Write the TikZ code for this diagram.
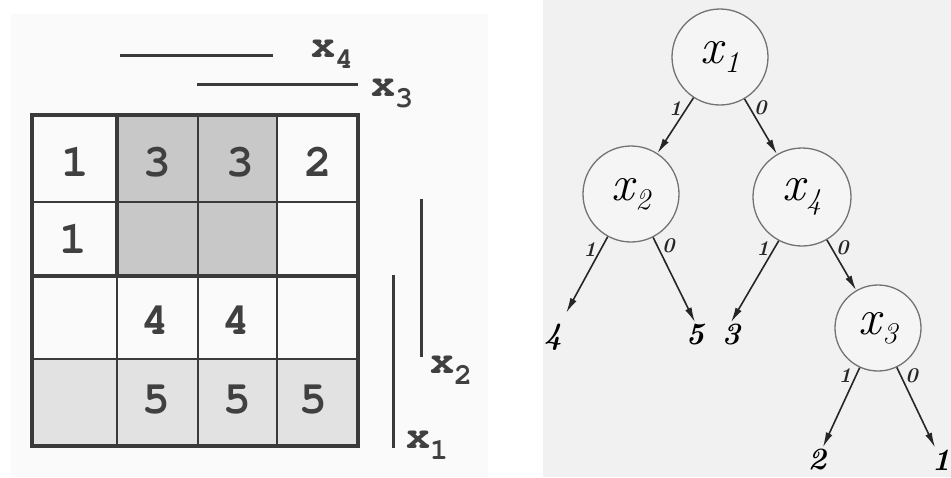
\documentclass[tikz,border=0pt]{standalone}
\usepackage{fontspec}
\usetikzlibrary{arrows.meta}
\newfontfamily\kfont{TeX Gyre Cursor}
\definecolor{cellgray}{HTML}{C8C8C8}
\definecolor{rowgray}{HTML}{E2E2E2}
\definecolor{gridline}{HTML}{3A3A3A}
\definecolor{pagegray}{HTML}{F1F1F1}
\newcommand{\kvar}[1]{{\kfont\bfseries\fontsize{40}{40}\selectfont x\raisebox{-11pt}{\fontsize{30}{30}\selectfont #1}}}
\newcommand{\tvar}[1]{{\itshape x\kern1pt\raisebox{-9pt}{\fontsize{30}{30}\selectfont #1}}}

\begin{document}
\begin{tikzpicture}[x=1pt,y=-1pt]
  \tikzstyle{cell}=[font=\kfont\bfseries\fontsize{46}{46}\selectfont, text=black!75, inner sep=0pt]
  \tikzstyle{var}=[inner sep=0pt, anchor=base west, text=black!75]
  \tikzstyle{bar}=[line width=3pt, gridline]
  \tikzstyle{test}=[circle, draw=black!55, line width=1.3pt, fill=white!96!black,
    minimum size=96pt, inner sep=0pt, font=\fontsize{50}{50}\selectfont]
  \tikzstyle{leaf}=[inner sep=2pt, font=\fontsize{31}{31}\selectfont\bfseries\itshape]
  \tikzstyle{branch}=[inner sep=4pt, font=\fontsize{21}{21}\selectfont\bfseries\itshape]
  \tikzstyle{arc}=[-{Latex[length=15pt,width=7pt]}, line width=1.6pt, black!85]

  \useasboundingbox (0,0) rectangle (951,477);
  \fill[white!98!black] (11,14) rectangle (488,477);
  \fill[pagegray] (543,0) rectangle (951,477);

  % the map
  \fill[cellgray] (117,115) rectangle (277,276);
  \fill[rowgray] (32,359) rectangle (358,446);
  \foreach \x in {117,198,277}
    \draw[gridline, line width=2pt] (\x,115) -- (\x,446);
  \foreach \y in {202,359}
    \draw[gridline, line width=2pt] (32,\y) -- (358,\y);
  \draw[gridline, line width=3.5pt] (117,115) -- (117,276);
  \draw[gridline, line width=4pt] (32,276) -- (358,276);
  \draw[gridline, line width=4pt] (32,115) rectangle (358,446);
  \foreach \name/\x/\y/\v in {c11/75/162/1, c12/157/162/3, c13/240/162/3, c14/318/162/2,
                              c21/73/239/1,
                              c32/155/320/4, c33/236/320/4,
                              c42/156/400/5, c43/237/400/5, c44/313/400/5}
    \node[cell] (\name) at (\x,\y) {\v};

  % variable bars
  \draw[bar] (120,55) -- (273,55);
  \node[var] (v4) at (311,57) {\kvar{4}};
  \draw[bar] (197,84) -- (358,84);
  \node[var] (v3) at (371,96) {\kvar{3}};
  \draw[bar] (421,199) -- (421,357);
  \node[var] (v2) at (430,373) {\kvar{2}};
  \draw[bar] (393,275) -- (393,448);
  \node[var] (v1) at (406,448) {\kvar{1}};

  % the tree
  \node[test] (x1) at (720,57) {\tvar{1}};
  \node[test] (x2) at (631,194) {\tvar{2}};
  \node[test, minimum size=98pt] (x4) at (802,197) {\tvar{4}};
  \node[test, minimum size=86pt] (x3) at (878,328) {\tvar{3}};
  \node[leaf] (f4) at (553,337) {4};
  \node[leaf] (f5) at (695,335) {5};
  \node[leaf] (f3) at (731,335) {3};
  \node[leaf] (f2) at (817,460) {2};
  \node[leaf] (f1) at (941,460) {1};

  \draw[arc] (x1) -- node[branch, pos=.2, left] (b1) {1} (x2);
  \draw[arc] (x1) -- node[branch, pos=.15, right] (b2) {0} (x4);
  \draw[arc, shorten >=10pt] (x2) -- node[branch, pos=.15, left] (b3) {1} (f4);
  \draw[arc] (x2.-63) -- node[branch, pos=.1, right] (b4) {0} (f5.north);
  \draw[arc] (x4.-118) -- node[branch, pos=.1, left] (b5) {1} (f3.north);
  \draw[arc] (x4) -- node[branch, pos=.15, right] (b6) {0} (x3);
  \draw[arc] (x3) -- node[branch, pos=.1, left] (b7) {1} (f2);
  \draw[arc] (x3) -- node[branch, pos=.1, right] (b8) {0} (f1);
\end{tikzpicture}
\end{document}
